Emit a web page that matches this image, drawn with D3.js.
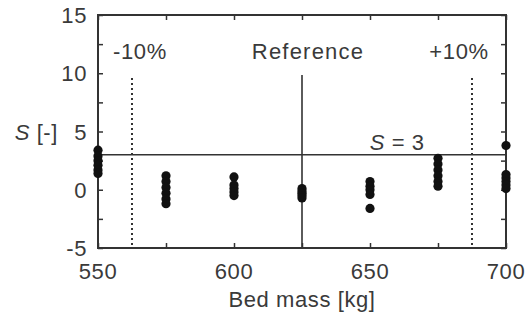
<!DOCTYPE html>
<html>
<head>
<meta charset="utf-8">
<script src="https://cdn.jsdelivr.net/npm/d3@7"></script>
<style>
  body { margin: 0; background: #fff; }
  svg text { font-family: "Liberation Sans", Arial, sans-serif; fill: #3a3a3a; font-size: 22px; letter-spacing: 0.6px; }
</style>
</head>
<body>
<div id="chart"></div>
<script>
// bed masses tested and sensitivity values S at each
const masses = [550, 575, 600, 625, 650, 675, 700];
const sValues = [
  [3.4, 2.9, 2.5, 2.1, 1.7, 1.4],
  [1.2, 0.7, 0.2, -0.3, -0.8, -1.2],
  [1.1, 0.4, 0.1, -0.2, -0.5],
  [0.1, -0.1, -0.3, -0.5, -0.7],
  [0.7, 0.3, 0.0, -0.4, -1.6],
  [2.7, 2.2, 1.7, 1.2, 0.7, 0.3],
  [3.8, 1.3, 1.0, 0.7, 0.4, 0.1]
];
const xTicks = [550, 600, 650, 700];
const yTicks = [-5, 0, 5, 10, 15];
const refMass = 625;
const limits = [
  { v: 562.5, label: '-10%', dx: 8 },
  { v: 687.5, label: '+10%', dx: -13 }
];
const sThreshold = 3;

const width = 528, height = 320;
const margin = { top: 15, right: 22, bottom: 72, left: 98 };
const iw = width - margin.left - margin.right;
const ih = height - margin.top - margin.bottom;

const svg = d3.select('#chart').append('svg')
  .attr('width', width)
  .attr('height', height);

const g = svg.append('g')
  .attr('transform', `translate(${margin.left},${margin.top})`);

const x = d3.scaleLinear().domain([550, 700]).range([0, iw]);
const y = d3.scaleLinear().domain([-5, 15]).range([ih, 0]);

const stroke = '#333';

// inward ticks on all four sides
const xMinor = d3.range(550, 701, 25);
const yMinor = d3.range(-5, 15.01, 2.5);
const tickLen = 5;

g.append('g').attr('transform', `translate(0,${ih})`)
  .call(d3.axisBottom(x).tickValues(xMinor).tickSize(-tickLen).tickFormat(''))
  .call(a => a.select('.domain').remove());
g.append('g')
  .call(d3.axisTop(x).tickValues(xMinor).tickSize(-tickLen).tickFormat(''))
  .call(a => a.select('.domain').remove());
g.append('g')
  .call(d3.axisLeft(y).tickValues(yMinor).tickSize(-tickLen).tickFormat(''))
  .call(a => a.select('.domain').remove());
g.append('g').attr('transform', `translate(${iw},0)`)
  .call(d3.axisRight(y).tickValues(yMinor).tickSize(-tickLen).tickFormat(''))
  .call(a => a.select('.domain').remove());
g.selectAll('.tick line').attr('stroke', stroke).attr('stroke-width', 1.5);

// tick labels
g.selectAll('.xlab').data(xTicks).enter().append('text')
  .attr('x', d => x(d)).attr('y', ih + 31)
  .attr('text-anchor', 'middle')
  .text(d => d);
g.selectAll('.ylab').data(yTicks).enter().append('text')
  .attr('x', -11).attr('y', d => y(d) + 8)
  .attr('text-anchor', 'end')
  .text(d => d);

// axis titles
g.append('text')
  .attr('x', x(625)).attr('y', ih + 59)
  .attr('text-anchor', 'middle')
  .text('Bed mass [kg]');
const yt = g.append('text')
  .attr('x', -40).attr('y', y(5) + 8)
  .attr('text-anchor', 'end');
yt.append('tspan').style('font-style', 'italic').text('S');
yt.append('tspan').text(' [-]');

// reference and ±10% lines
g.append('line')
  .attr('x1', x(refMass)).attr('x2', x(refMass))
  .attr('y1', 60).attr('y2', ih)
  .attr('stroke', stroke).attr('stroke-width', 1.6);
g.append('text')
  .attr('x', x(refMass) + 6).attr('y', 44)
  .attr('text-anchor', 'middle')
  .style('letter-spacing', '1.2px')
  .text('Reference');

g.selectAll('.lim').data(limits).enter().append('line')
  .attr('x1', d => x(d.v)).attr('x2', d => x(d.v))
  .attr('y1', 63).attr('y2', ih)
  .attr('stroke', stroke).attr('stroke-width', 2)
  .attr('stroke-dasharray', '2,3');
g.selectAll('.limlab').data(limits).enter().append('text')
  .attr('x', d => x(d.v) + d.dx).attr('y', 44)
  .attr('text-anchor', 'middle')
  .text(d => d.label);

// S = 3 threshold
g.append('line')
  .attr('x1', 0).attr('x2', iw)
  .attr('y1', y(sThreshold)).attr('y2', y(sThreshold))
  .attr('stroke', stroke).attr('stroke-width', 1.6);
const st = g.append('text')
  .attr('x', x(660)).attr('y', y(sThreshold) - 5)
  .attr('text-anchor', 'middle');
st.append('tspan').style('font-style', 'italic').text('S');
st.append('tspan').text(' = 3');

// frame
g.append('rect')
  .attr('width', iw).attr('height', ih)
  .attr('fill', 'none').attr('stroke', stroke).attr('stroke-width', 2);

// data points
const pts = [];
masses.forEach((m, i) => sValues[i].forEach(v => pts.push({ m, v })));
g.selectAll('.pt').data(pts).enter().append('circle')
  .attr('cx', d => x(d.m)).attr('cy', d => y(d.v))
  .attr('r', 4.6)
  .attr('fill', '#111');
</script>
</body>
</html>
